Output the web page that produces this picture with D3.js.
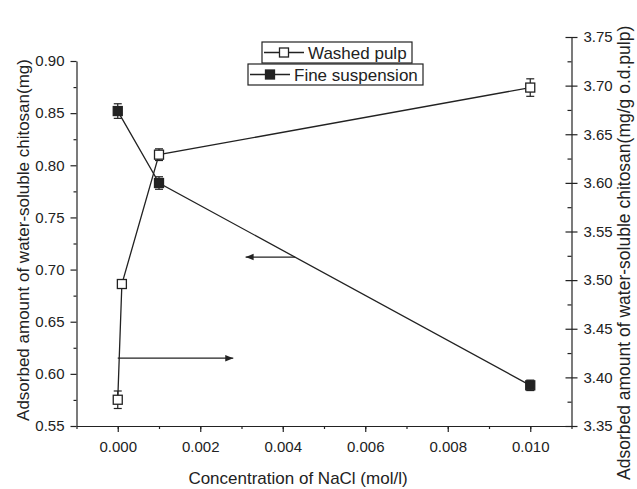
<!DOCTYPE html>
<html>
<head>
<meta charset="utf-8">
<script src="https://cdn.jsdelivr.net/npm/d3@7"></script>
<style>
  body { margin: 0; background: #fff; }
  text { font-family: "Liberation Sans", Arial, sans-serif; fill: #222; }
  .axis path, .axis line { stroke: #222; stroke-width: 1.2; }
  .axis text { font-size: 15px; }
</style>
</head>
<body>
<svg id="chart" width="637" height="489"></svg>
<script>
// x values (NaCl concentration, mol/l)
var xTicks = [0, 0.002, 0.004, 0.006, 0.008, 0.010];
var leftTicks = [0.55, 0.60, 0.65, 0.70, 0.75, 0.80, 0.85, 0.90];
var rightTicks = [3.35, 3.40, 3.45, 3.50, 3.55, 3.60, 3.65, 3.70, 3.75];

// washed pulp -> right axis
var washedConc = [0, 0.0001, 0.001, 0.010];
var washedVal = [3.377, 3.496, 3.629, 3.698];
var washedErr = [0.009, 0.004, 0.006, 0.009];

// fine suspension -> left axis
var fineConc = [0, 0.001, 0.010];
var fineVal = [0.852, 0.783, 0.589];
var fineErr = [0.007, 0.006, 0.005];

// arrows: [x start, x end, left-axis value]
var arrowToRight = [0, 0.0028, 0.615];
var arrowToLeft = [0.0043, 0.0031, 0.712];

var svg = d3.select("#chart");

var x = d3.scaleLinear().domain([-0.001, 0.011]).range([76.5, 571.5]);
var yL = d3.scaleLinear().domain([0.55, 0.90]).range([426, 61]);
var yR = d3.scaleLinear().domain([3.35, 3.75]).range([426, 37]);

var defs = svg.append("defs");
defs.append("marker")
  .attr("id", "head")
  .attr("viewBox", "0 0 10 10")
  .attr("refX", 10).attr("refY", 5)
  .attr("markerWidth", 16).attr("markerHeight", 8)
  .attr("markerUnits", "userSpaceOnUse")
  .attr("orient", "auto")
  .append("path").attr("d", "M0,1L10,5L0,9Z").attr("fill", "#222");

// minor ticks
function minors(lo, hi, step) {
  var out = [];
  for (var v = lo; v <= hi + step / 2; v += step) out.push(+v.toFixed(5));
  return out;
}

// bottom axis
svg.append("g").attr("class", "axis")
  .attr("transform", "translate(0,426)")
  .call(d3.axisBottom(x).tickValues(minors(-0.001, 0.011, 0.001)).tickSize(3).tickFormat(""))
  .call(function (g) { g.select(".domain").remove(); });
svg.append("g").attr("class", "axis")
  .attr("transform", "translate(0,426)")
  .call(d3.axisBottom(x).tickValues(xTicks).tickSize(6).tickSizeOuter(0).tickPadding(9)
    .tickFormat(d3.format(".3f")));

// left axis
svg.append("g").attr("class", "axis")
  .attr("transform", "translate(" + x(-0.001) + ",0)")
  .call(d3.axisLeft(yL).tickValues(minors(0.575, 0.875, 0.05)).tickSize(3).tickFormat(""))
  .call(function (g) { g.select(".domain").remove(); });
svg.append("g").attr("class", "axis")
  .attr("transform", "translate(" + x(-0.001) + ",0)")
  .call(d3.axisLeft(yL).tickValues(leftTicks).tickSize(6).tickSizeOuter(0).tickPadding(6)
    .tickFormat(d3.format(".2f")));

// right axis, major ticks cross the line, minor ticks inside
svg.append("g").attr("class", "axis")
  .attr("transform", "translate(" + x(0.011) + ",0)")
  .call(d3.axisLeft(yR).tickValues(minors(3.375, 3.725, 0.05)).tickSize(4).tickFormat(""))
  .call(function (g) { g.select(".domain").remove(); });
svg.append("g").attr("class", "axis")
  .attr("transform", "translate(" + x(0.011) + ",0)")
  .call(d3.axisRight(yR).tickValues(rightTicks).tickSize(6).tickSizeOuter(0).tickPadding(6)
    .tickFormat(d3.format(".2f")))
  .call(function (g) { g.selectAll(".tick line").attr("x1", -6); });

// axis titles
svg.append("text")
  .attr("transform", "translate(29,240) rotate(-90)")
  .attr("text-anchor", "middle")
  .style("font-size", "17px")
  .text("Adsorbed amount of water-soluble chitosan(mg)");
svg.append("text")
  .attr("transform", "translate(630,480) rotate(-90)")
  .attr("text-anchor", "start")
  .style("font-size", "17.5px")
  .text("Adsorbed amount of water-soluble chitosan(mg/g o.d.pulp)");
svg.append("text")
  .attr("x", 298).attr("y", 484)
  .attr("text-anchor", "middle")
  .style("font-size", "17px")
  .text("Concentration of NaCl (mol/l)");

// series
function drawSeries(cx, vals, errs, y, fill) {
  var pts = cx.map(function (c, i) { return {x: c, v: vals[i], e: errs[i]}; });
  svg.append("path")
    .datum(pts)
    .attr("fill", "none").attr("stroke", "#222").attr("stroke-width", 1.3)
    .attr("d", d3.line().x(function (d) { return x(d.x); }).y(function (d) { return y(d.v); }));
  var g = svg.append("g").selectAll("g").data(pts).enter().append("g");
  g.append("line")
    .attr("x1", function (d) { return x(d.x); }).attr("x2", function (d) { return x(d.x); })
    .attr("y1", function (d) { return y(d.v - d.e); }).attr("y2", function (d) { return y(d.v + d.e); })
    .attr("stroke", "#222").attr("stroke-width", 1.2);
  [-1, 1].forEach(function (s) {
    g.append("line")
      .attr("x1", function (d) { return x(d.x) - 4; }).attr("x2", function (d) { return x(d.x) + 4; })
      .attr("y1", function (d) { return y(d.v + s * d.e); }).attr("y2", function (d) { return y(d.v + s * d.e); })
      .attr("stroke", "#222").attr("stroke-width", 1.2);
  });
  g.append("rect")
    .attr("x", function (d) { return x(d.x) - 4.5; }).attr("y", function (d) { return y(d.v) - 4.5; })
    .attr("width", 9).attr("height", 9)
    .attr("fill", fill).attr("stroke", "#222").attr("stroke-width", 1.3);
}
drawSeries(fineConc, fineVal, fineErr, yL, "#222");
drawSeries(washedConc, washedVal, washedErr, yR, "#fff");

// arrows
[arrowToRight, arrowToLeft].forEach(function (a) {
  svg.append("line")
    .attr("x1", x(a[0])).attr("x2", x(a[1]))
    .attr("y1", yL(a[2])).attr("y2", yL(a[2]))
    .attr("stroke", "#222").attr("stroke-width", 1.2)
    .attr("marker-end", "url(#head)");
});

// legend
var legend = [
  {name: "Washed pulp", fill: "#fff", box: [262, 42, 150, 21]},
  {name: "Fine suspension", fill: "#222", box: [248, 64, 175, 21]}
];
legend.forEach(function (l) {
  var b = l.box, cy = b[1] + b[3] / 2, lx = b[0] + 2;
  svg.append("rect").attr("x", b[0]).attr("y", b[1]).attr("width", b[2]).attr("height", b[3])
    .attr("fill", "#fff").attr("stroke", "#222").attr("stroke-width", 1.2);
  svg.append("line").attr("x1", lx).attr("x2", lx + 40).attr("y1", cy).attr("y2", cy)
    .attr("stroke", "#222").attr("stroke-width", 1.3);
  svg.append("rect").attr("x", lx + 15.5).attr("y", cy - 4.5).attr("width", 9).attr("height", 9)
    .attr("fill", l.fill).attr("stroke", "#222").attr("stroke-width", 1.3);
  svg.append("text").attr("x", lx + 44).attr("y", cy + 6)
    .style("font-size", "17px").text(l.name);
});
</script>
</body>
</html>
